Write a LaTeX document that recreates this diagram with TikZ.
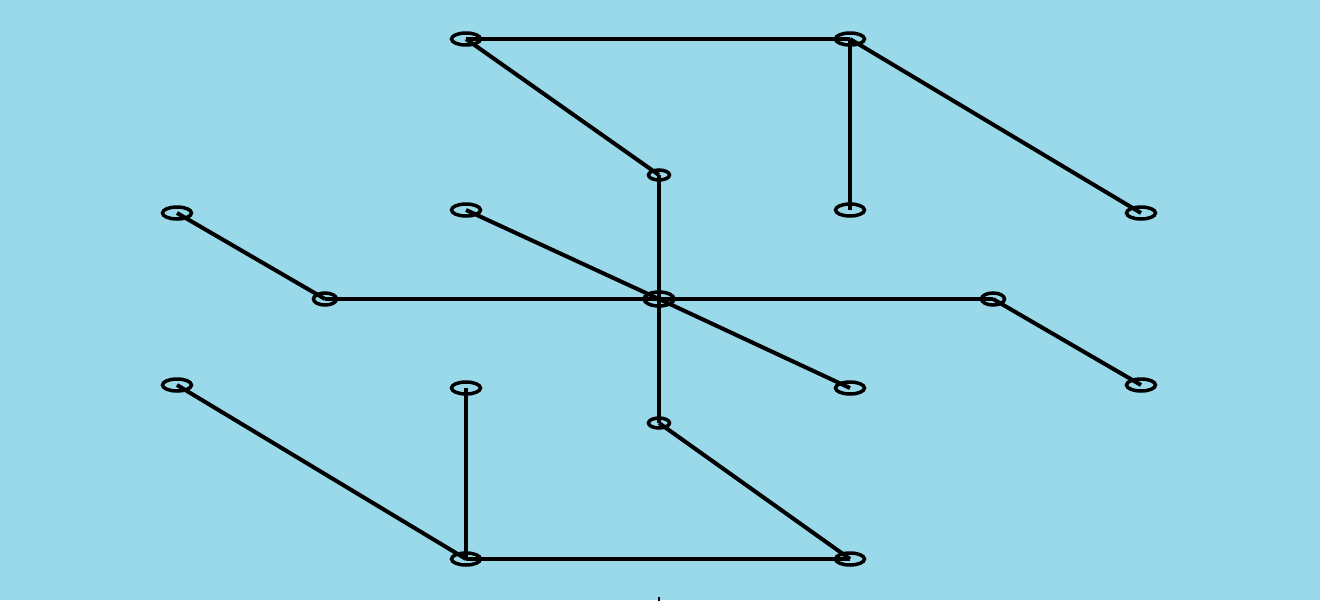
\documentclass[tikz,border=0pt]{standalone}
\usetikzlibrary{shapes.geometric}
\definecolor{bg}{RGB}{153,217,234}
\begin{document}
\begin{tikzpicture}[x=1pt,y=-1pt,
  vert/.style={draw=black,line width=3.5pt,ellipse,inner sep=0pt,minimum width=29pt,minimum height=12pt},
  small/.style={vert,minimum width=21pt,minimum height=10pt},
  mid/.style={vert,minimum width=23pt,minimum height=12pt},
  edge/.style={draw=black,line width=4pt}]
\fill[bg] (0,0) rectangle (1320,600);
\useasboundingbox (0,0) rectangle (1320,600);
\coordinate (A) at (466,39);
\coordinate (B) at (850,39);
\coordinate (C) at (659,175);
\coordinate (D) at (177,213);
\coordinate (E) at (466,210);
\coordinate (F) at (850,210);
\coordinate (G) at (1141,213);
\coordinate (H) at (325,299);
\coordinate (O) at (659,299);
\coordinate (I) at (993,299);
\coordinate (J) at (177,385);
\coordinate (K) at (466,388);
\coordinate (L) at (850,388);
\coordinate (M) at (1141,385);
\coordinate (N) at (659,423);
\coordinate (P) at (466,559);
\coordinate (Q) at (850,559);
\coordinate (T1) at (659,597);
\coordinate (T2) at (659,601);
\foreach \a/\b in {A/B,A/C,B/F,B/G,C/O,D/H,H/O,E/O,O/I,O/L,I/M,O/N,J/P,K/P,P/Q,N/Q}
  \draw[edge] (\a) -- (\b);
\draw[line width=2.5pt] (T1) -- (T2);
\foreach \n in {A,B,D,E,F,G,J,K,L,M,P,Q}
  \node[vert] (v\n) at (\n) {};
\node[vert,minimum width=30pt,minimum height=14pt] (vO) at (O) {};
\foreach \n in {C,N}
  \node[small] (v\n) at (\n) {};
\foreach \n in {H,I}
  \node[mid] (v\n) at (\n) {};
\end{tikzpicture}
\end{document}
